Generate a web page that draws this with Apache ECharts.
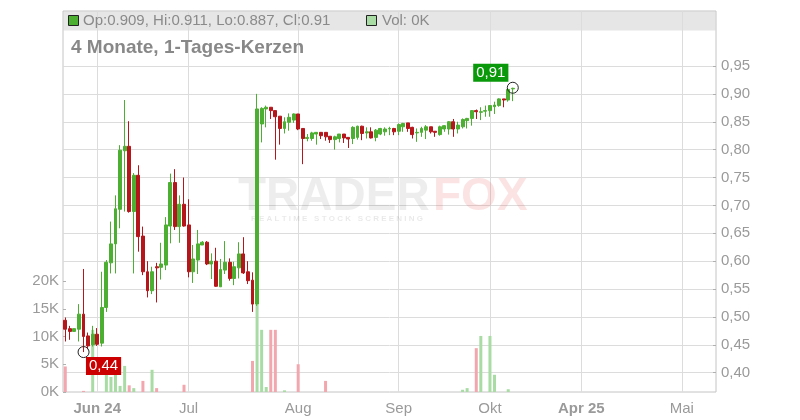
<!DOCTYPE html>
<html><head><meta charset="utf-8">
<script src="https://cdn.jsdelivr.net/npm/echarts@6/dist/echarts.min.js"></script>
<style>html,body{margin:0;padding:0;background:#fff}#c{width:800px;height:420px}</style>
</head><body><div id="c"></div>
<script>
// trading-day slots on the x axis (143 slots, data fills the first 99)
const categories = Array.from({length: 143}, (_, i) => String(i));
// month tick labels at slot index
const monthTicks = {7: 'Jun 24', 27: 'Jul', 51: 'Aug', 73: 'Sep', 93: 'Okt', 113: 'Apr 25', 135: 'Mai'};
const boldTicks = ['Jun 24', 'Apr 25'];

const opens = [
0.494,0.479,0.474,0.478,0.505,0.466,0.450,0.469,0.453,0.517,
0.597,0.631,0.693,0.798,0.806,0.689,0.754,0.645,0.581,0.547,
0.590,0.589,0.593,0.663,0.741,0.662,0.702,0.665,0.581,0.602,
0.629,0.634,0.595,0.600,0.554,0.584,0.598,0.569,0.588,0.613,
0.581,0.566,0.523,0.846,0.873,0.876,0.870,0.860,0.838,0.849,
0.853,0.864,0.838,0.820,0.820,0.828,0.831,0.831,0.824,0.818,
0.820,0.828,0.822,0.820,0.822,0.842,0.830,0.832,0.822,0.828,
0.832,0.837,0.838,0.833,0.841,0.848,0.840,0.830,0.831,0.835,
0.841,0.833,0.827,0.837,0.837,0.850,0.837,0.841,0.852,0.856,
0.870,0.867,0.869,0.870,0.877,0.879,0.891,0.889,0.909];
const closes = [
0.478,0.474,0.479,0.505,0.465,0.448,0.469,0.451,0.517,0.598,
0.631,0.694,0.799,0.806,0.689,0.754,0.644,0.581,0.547,0.581,
0.588,0.595,0.665,0.741,0.662,0.702,0.663,0.581,0.604,0.631,
0.634,0.595,0.600,0.555,0.585,0.598,0.569,0.590,0.613,0.579,
0.565,0.523,0.873,0.874,0.876,0.870,0.859,0.838,0.850,0.858,
0.864,0.837,0.820,0.822,0.830,0.831,0.825,0.823,0.818,0.823,
0.828,0.821,0.819,0.840,0.842,0.829,0.832,0.821,0.835,0.838,
0.837,0.838,0.832,0.845,0.847,0.838,0.827,0.831,0.838,0.841,
0.832,0.831,0.841,0.843,0.850,0.837,0.844,0.854,0.856,0.870,
0.868,0.868,0.870,0.879,0.880,0.891,0.889,0.908,0.910];
const lows = [
0.456,0.459,0.474,0.456,0.437,0.442,0.447,0.448,0.447,0.509,
0.578,0.578,0.659,0.689,0.687,0.578,0.617,0.575,0.535,0.541,
0.526,0.567,0.584,0.632,0.656,0.633,0.662,0.571,0.561,0.577,
0.629,0.593,0.568,0.554,0.554,0.577,0.565,0.557,0.569,0.577,
0.559,0.509,0.520,0.813,0.840,0.855,0.782,0.809,0.829,0.834,
0.848,0.835,0.774,0.815,0.816,0.809,0.819,0.816,0.812,0.800,
0.813,0.812,0.803,0.810,0.818,0.817,0.820,0.820,0.815,0.826,
0.825,0.826,0.826,0.826,0.832,0.832,0.820,0.814,0.823,0.819,
0.829,0.823,0.825,0.832,0.827,0.823,0.829,0.838,0.838,0.843,
0.855,0.853,0.859,0.859,0.864,0.877,0.876,0.886,0.887];
const highs = [
0.499,0.484,0.479,0.523,0.586,0.472,0.484,0.480,0.581,0.602,
0.671,0.718,0.808,0.889,0.851,0.758,0.772,0.662,0.600,0.590,
0.597,0.633,0.679,0.757,0.765,0.718,0.750,0.711,0.629,0.656,
0.636,0.636,0.614,0.624,0.604,0.636,0.605,0.599,0.634,0.643,
0.600,0.580,0.900,0.876,0.879,0.876,0.870,0.860,0.858,0.865,
0.865,0.864,0.838,0.828,0.832,0.831,0.831,0.831,0.824,0.825,
0.828,0.828,0.822,0.842,0.843,0.843,0.840,0.840,0.837,0.839,
0.840,0.841,0.839,0.847,0.848,0.848,0.841,0.838,0.841,0.844,
0.841,0.833,0.843,0.844,0.851,0.855,0.850,0.856,0.857,0.871,
0.872,0.876,0.879,0.880,0.886,0.892,0.891,0.909,0.911];
const volumes = [
4600,0,0,0,200,0,11200,0,0,3500,
2700,4700,1100,4700,1200,700,0,2000,0,4000,
700,0,0,0,0,0,1300,0,0,0,
0,0,0,0,0,0,0,0,0,0,
0,5600,15700,11200,900,11200,11200,0,300,0,
0,5000,0,0,0,0,0,2000,0,0,
0,0,0,0,0,0,0,0,0,0,
0,0,0,0,0,0,0,0,0,0,
0,0,0,0,0,0,0,400,700,0,
7900,10100,0,10100,3100,0,0,500,0];

const FONT = '"Liberation Sans", Arial, sans-serif';
const UP = '#4caf32', DOWN = '#b5161c', UPV = '#a8dca4', DOWNV = '#f2a6ad';
const TXT = '#9a9a9a';

const candleData = opens.map((o, i) => [o, closes[i], lows[i], highs[i]]);
const volData = volumes.map((v, i) => ({value: v, itemStyle: {color: closes[i] >= opens[i] ? UPV : DOWNV}}));
const isTick = (i) => monthTicks[i] !== undefined;

const chart = echarts.init(document.getElementById('c'), null, {renderer: 'canvas'});
chart.setOption({
  animation: false,
  grid: [
    {left: 63, right: 84, top: 11, bottom: 28, show: true, borderColor: '#c4c4c4', borderWidth: 1, backgroundColor: 'transparent'},
    {left: 63, right: 84, top: 66, bottom: 47.3},
    {left: 63, right: 84, top: 281, bottom: 28}
  ],
  xAxis: [
    {gridIndex: 0, type: 'category', data: categories, boundaryGap: true,
     axisLine: {show: false}, axisTick: {show: false},
     axisLabel: {interval: (i) => isTick(i), margin: 9, color: TXT, fontSize: 15, fontFamily: FONT,
       formatter: (v) => { const t = monthTicks[v]; return boldTicks.includes(t) ? '{b|' + t + '}' : t; },
       rich: {b: {fontWeight: 'bold', color: TXT, fontSize: 15, fontFamily: FONT}}},
     splitLine: {show: true, interval: (i) => isTick(i), alignWithLabel: true, lineStyle: {color: '#dcdcdc', width: 1}}},
    {gridIndex: 1, type: 'category', data: categories, show: false},
    {gridIndex: 2, type: 'category', data: categories, show: false}
  ],
  yAxis: [
    {gridIndex: 0, type: 'value', show: false, min: 0, max: 1},
    {gridIndex: 1, type: 'value', position: 'right', min: 0.40, max: 0.95, interval: 0.05,
     axisLine: {show: false},
     axisTick: {show: true, inside: true, length: 3, lineStyle: {color: '#b0b0b0'}},
     axisLabel: {formatter: (v) => v.toFixed(2).replace('.', ','), color: TXT, fontSize: 15, fontFamily: FONT, margin: 5},
     splitLine: {show: true, lineStyle: {color: '#dcdcdc', width: 1}}},
    {gridIndex: 2, type: 'value', position: 'left', min: 0, max: 20000, interval: 5000,
     axisLine: {show: false},
     axisTick: {show: true, inside: true, length: 3, lineStyle: {color: '#b0b0b0'}},
     axisLabel: {formatter: (v) => (v / 1000) + 'K', color: TXT, fontSize: 15, fontFamily: FONT, margin: 4},
     splitLine: {show: false}}
  ],
  series: [
    {type: 'bar', xAxisIndex: 2, yAxisIndex: 2, data: volData, barWidth: 3, z: 2, silent: true},
    {type: 'candlestick', xAxisIndex: 1, yAxisIndex: 1, data: candleData, barWidth: 3.4, z: 3, silent: true,
     itemStyle: {color: UP, color0: DOWN, borderColor: UP, borderColor0: DOWN, borderWidth: 1},
     markPoint: {
       silent: true,
       data: [
         {coord: ['4', lows[4]], symbol: 'circle', symbolSize: 11,
          itemStyle: {color: 'rgba(0,0,0,0)', borderColor: '#222', borderWidth: 1}, label: {show: false}},
         {coord: ['4', lows[4]], symbol: 'rect', symbolSize: 1, itemStyle: {color: 'rgba(0,0,0,0)'},
          label: {show: true, formatter: '0,44', position: 'inside', offset: [20, 14], backgroundColor: '#cc0000',
                  color: '#fff', padding: [2, 3, 1, 3], fontSize: 15, fontFamily: FONT}},
         {coord: ['98', highs[98]], symbol: 'circle', symbolSize: 11,
          itemStyle: {color: 'rgba(0,0,0,0)', borderColor: '#222', borderWidth: 1}, label: {show: false}},
         {coord: ['98', highs[98]], symbol: 'rect', symbolSize: 1, itemStyle: {color: 'rgba(0,0,0,0)'},
          label: {show: true, formatter: '0,91', position: 'inside', offset: [-22, -15], backgroundColor: '#0a990a',
                  color: '#fff', padding: [2, 3, 1, 3], fontSize: 15, fontFamily: FONT}}
       ]
     }}
  ],
  graphic: [
    {type: 'rect', z: -1, silent: true, shape: {x: 63.5, y: 11.5, width: 652, height: 19}, style: {fill: '#e6e6e6'}},
    {type: 'rect', z: 10, silent: true, shape: {x: 68.5, y: 15.5, width: 10, height: 10}, style: {fill: UP, stroke: '#222', lineWidth: 1}},
    {type: 'text', z: 10, silent: true, x: 83, y: 21, style: {text: 'Op:0.909, Hi:0.911, Lo:0.887, Cl:0.91', fill: '#8a8a8a', font: '15px ' + FONT, verticalAlign: 'middle'}},
    {type: 'rect', z: 10, silent: true, shape: {x: 366.5, y: 15.5, width: 10, height: 10}, style: {fill: UPV, stroke: '#222', lineWidth: 1}},
    {type: 'text', z: 10, silent: true, x: 382, y: 21, style: {text: 'Vol: 0K', fill: '#8a8a8a', font: '15px ' + FONT, verticalAlign: 'middle'}},
    {type: 'text', z: 10, silent: true, x: 71, y: 48, style: {text: '4 Monate, 1-Tages-Kerzen', fill: '#888888', font: 'bold 19px ' + FONT, verticalAlign: 'middle'}},
    {type: 'text', z: 1, silent: true, x: 238, y: 197, style: {text: 'TRADER', fill: 'rgba(0,0,0,0.07)', font: 'bold 46px ' + FONT, verticalAlign: 'middle'}},
    {type: 'text', z: 1, silent: true, x: 433, y: 197, style: {text: 'FOX', fill: 'rgba(225,60,60,0.14)', font: 'bold 46px ' + FONT, verticalAlign: 'middle'}},
    {type: 'text', z: 1, silent: true, x: 251, y: 219, style: {text: 'R E A L T I M E   S T O C K   S C R E E N I N G', fill: 'rgba(0,0,0,0.09)', font: 'bold 8px ' + FONT, verticalAlign: 'middle'}}
  ]
});
</script>
</body></html>
